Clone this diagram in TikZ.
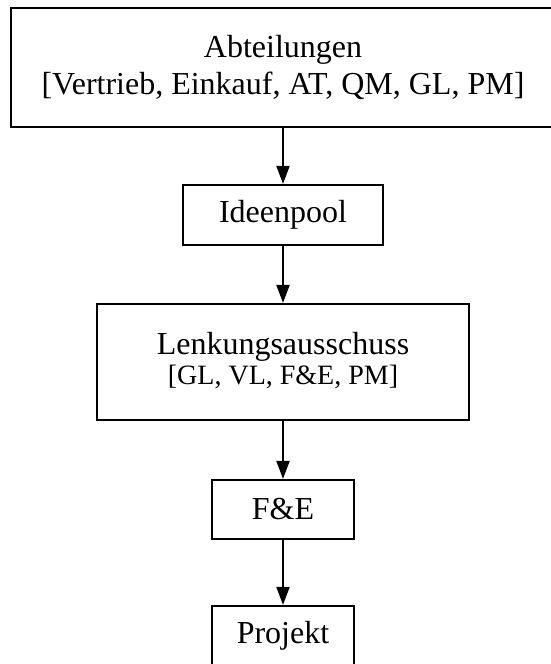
\documentclass[tikz,border=0pt]{standalone}
\usepackage{fontspec}
\setmainfont{Liberation Serif}
\usetikzlibrary{arrows.meta}
\begin{document}
\begin{tikzpicture}[x=1pt,y=-1pt,
  box/.style={draw=black, line width=2.2pt, rectangle, inner sep=0pt, align=center,
    font=\fontsize{32}{37}\selectfont},
  conn/.style={line width=2pt, -{Triangle[length=18pt,width=13pt]}}]
\useasboundingbox (0,0) rectangle (550,664);
\node[box, minimum width=544pt, minimum height=119pt] (abt) at (283,67.5)
  {Abteilungen\\{}[Vertrieb, Einkauf, AT, QM, GL, PM]};
\node[box, minimum width=200pt, minimum height=60pt] (ideen) at (283,215) {Ideenpool};
\node[box, minimum width=372pt, minimum height=116pt] (lenk) at (283,362)
  {\raisebox{10pt}{\begin{tabular}{@{}c@{}}Lenkungsausschuss\\[-7pt]\fontsize{28}{32}\selectfont {}[GL, VL, F\&E, PM]\end{tabular}}};
\node[box, minimum width=142pt, minimum height=59pt] (fue) at (283,509.5) {F\&E};
\node[box, minimum width=142pt, minimum height=60pt] (proj) at (283,636) {Projekt};
\draw[conn] (abt) -- (ideen);
\draw[conn] (ideen) -- (lenk);
\draw[conn] (lenk) -- (fue);
\draw[conn] (fue) -- (proj);
\end{tikzpicture}
\end{document}
